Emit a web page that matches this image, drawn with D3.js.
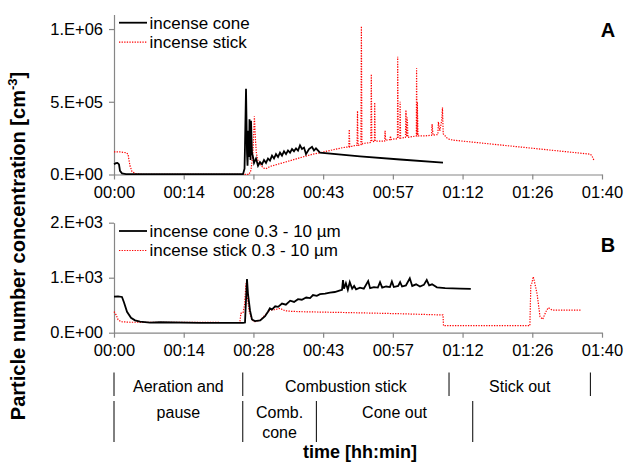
<!DOCTYPE html>
<html lang="en">
<head>
    <meta charset="UTF-8">
    <title>Particle number concentration</title>
    <script src="https://cdn.jsdelivr.net/npm/d3@7"></script>
    <style>
        body{ margin:0; background:#fff; }
        svg{ position:absolute; left:0px; top:0px; font-family:"Liberation Sans", Arial, sans-serif; }
    </style>
</head>
<body>
    <svg id="chart" width="625" height="462"></svg>
    <script>
        // time in minutes
        var coneA = [[0,70000],[0.41,78000],[0.72,80000],[1.03,70000],[1.24,25000],[1.65,8000],[2.48,3000],[5.4,2000],
            [26.65,2000],[26.96,40000],[27.06,200000],[27.27,590000],[27.47,150000],[27.58,60000],[27.78,300000],[27.89,120000],
            [27.99,380000],[28.2,100000],[28.3,370000],[28.5,150000],[28.71,120000],[28.92,80000],[29.33,110000],[29.75,60000],
            [30.16,85000],[30.57,70000],[30.98,100000],[31.4,80000],[31.81,110000],[32.22,95000],[32.64,130000],[33.05,110000],
            [33.46,140000],[33.88,120000],[34.29,150000],[34.7,130000],[35.12,160000],[35.53,140000],[35.94,165000],[36.36,150000],
            [36.77,175000],[37.18,160000],[37.6,180000],[38.01,165000],[38.42,200000],[38.83,175000],[39.25,185000],[39.66,140000],
            [40.28,175000],[40.9,190000],[41.3,165000],[41.72,180000],[42.55,150000],[50.8,125000],[59.1,103000],[67.96,82000]]

        var stickA = [[0,155000],[1.24,155000],[2.48,150000],[2.89,140000],[3.3,60000],[3.72,20000],[4.54,5000],[5.8,1000],
            [27.9,1000],[28.3,30000],[28.7,150000],[29.0,400000],[29.2,250000],[29.4,150000],[29.7,100000],[30.2,70000],
            [30.8,45000],[31.4,40000],[32.2,55000],[34.3,75000],[36.4,95000],[38.4,115000],[41.1,140000],[42.6,150000],
            [44.6,165000],[47.3,185000],[48.5,190000],[48.6,310000],[48.7,190000],[49.8,200000],[50.2,200000],[50.3,438000],
            [50.4,200000],[51.0,205000],[51.1,1020000],[51.2,210000],[51.85,215000],[53.05,220000],[53.15,690000],[53.25,230000],
            [53.8,225000],[53.85,495000],[53.95,230000],[54.9,230000],[55.9,230000],[56.0,300000],[56.1,235000],[57.0,240000],
            [57.1,264000],[57.2,240000],[58.0,245000],[58.55,245000],[58.6,810000],[58.7,250000],[59.05,250000],[59.1,500000],
            [59.2,250000],[60.2,255000],[60.3,443000],[60.45,260000],[60.6,392000],[60.7,255000],[61.55,260000],[62.45,265000],
            [62.5,730000],[62.6,270000],[62.65,500000],[62.8,265000],[64.2,265000],[65.6,270000],[65.7,346000],[65.9,270000],
            [66.9,275000],[67.0,362000],[67.3,300000],[67.7,374000],[67.85,460000],[68.0,280000],[68.8,250000],[69.4,240000],
            [70.4,235000],[98.3,140000],[98.7,130000],[99.1,100000]]

        var coneB = [[0,655],[0.83,660],[1.65,650],[2.07,550],[2.69,380],[3.51,270],[4.34,225],[5.37,200],[7.44,185],[9.5,190],
            [17.8,180],[26.65,180],[27.06,185],[27.27,600],[27.47,976],[27.68,700],[28.1,400],[28.5,240],[29.1,210],[30.2,225],
            [31.2,300],[31.8,380],[32.2,443],[32.6,420],[33.3,480],[33.9,470],[34.7,530],[35.5,510],[36.4,582],[37.2,560],
            [38.0,610],[38.8,600],[39.7,640],[40.5,630],[41.1,685],[41.9,670],[42.55,700],[43.6,710],[44.6,730],[45.6,740],
            [46.7,770],[47.1,780],[47.3,958],[47.5,800],[47.9,900],[48.3,780],[48.7,920],[49.2,800],[49.6,850],[50.0,790],
            [50.8,820],[51.6,800],[52.5,940],[52.9,810],[53.7,830],[54.5,820],[54.95,920],[55.4,820],[56.2,840],[57.0,830],
            [57.4,930],[57.8,830],[58.7,850],[59.1,920],[59.5,840],[60.3,860],[61.1,990],[61.6,850],[62.4,880],[63.2,840],
            [64.0,870],[64.6,958],[65.1,860],[65.7,880],[66.7,825],[68.4,810],[71.5,800],[73.7,795]]

        var stickB = [[0,382],[0.41,330],[0.83,240],[1.45,200],[3.3,190],[26.0,185],[26.2,352],[26.65,360],[26.96,500],
            [27.27,898],[27.47,700],[27.9,400],[28.5,230],[29.1,200],[30.2,230],[31.2,320],[32.2,412],[33.3,420],[34.3,443],
            [35.3,400],[36.4,390],[38.4,382],[48.7,365],[59.1,345],[67.96,322],[68.06,127],[85.9,127],[86.1,867],[86.3,900],
            [86.6,1018],[86.97,880],[87.4,700],[88.0,291],[88.55,243],[89.2,380],[89.7,455],[90.5,412],[96.6,412]]

        var xTicks = [0, 14.4, 28.8, 43.2, 57.6, 72, 86.4, 100.8]
        var yTicksA = [0, 500000, 1000000]
        var yTicksB = [0, 1000, 2000]

        var legendA = ["incense cone", "incense stick"]
        var legendB = ["incense cone 0.3 - 10 \u00b5m", "incense stick 0.3 - 10 \u00b5m"]

        // phase table below the axis: boundaries (minutes) and labels
        var phaseRow1 = [0, 26.6, 69.2, 98.4]
        var phaseRow1Labels = [["Aeration and"], ["Combustion stick"], ["Stick out"]]
        var phaseRow2 = [0, 26.6, 41.8, 74.1]
        var phaseRow2Labels = [["pause"], ["Comb.", "cone"], ["Cone out"]]

        var svg = d3.select("#chart")
        var axisGrey = "#868686"

        var x = d3.scaleLinear().domain([0, 100.8]).range([114, 602])
        var yA = d3.scaleLinear().domain([0, 1100000]).range([174.5, 14.5])
        var yB = d3.scaleLinear().domain([0, 2000]).range([332.7, 222.7])

        function timeFmt(t){
            var m = Math.floor(t + 1e-6)
            return d3.format("02d")(Math.floor(m / 60)) + ":" + d3.format("02d")(m % 60)
        }
        function sciFmt(v){
            if (v === 0) return "0.E+00"
            var e = Math.floor(Math.log10(v))
            return Math.round(v / Math.pow(10, e)) + ".E+" + d3.format("02d")(e)
        }

        function drawPanel(y, yTicks, cone, stick, legend, letter, legY){
            var gx = svg.append("g").attr("transform", "translate(0," + y(0) + ")")
                .call(d3.axisBottom(x).tickValues(xTicks).tickFormat(timeFmt).tickSize(5).tickSizeOuter(0))
            var gy = svg.append("g").attr("transform", "translate(" + x(0) + ",0)")
                .call(d3.axisLeft(y).tickValues(yTicks).tickFormat(sciFmt).tickSize(5).tickSizeOuter(0))
            ;[gx, gy].forEach(function(g){
                g.selectAll("path, line").attr("stroke", axisGrey).attr("stroke-width", 1.2)
                g.selectAll("text").attr("fill", "#000").style("font-size", "16.5px")
            })
            gx.selectAll("text").attr("dy", "0.95em")
            gy.selectAll("text").attr("x", -11)

            var line = d3.line().x(function(d){ return x(d[0]) }).y(function(d){ return y(d[1]) })

            svg.append("path").attr("d", line(stick))
                .attr("fill", "none").attr("stroke", "#ff0000").attr("stroke-width", 1.2)
                .attr("stroke-dasharray", "1.3 1.3")
            svg.append("path").attr("d", line(cone))
                .attr("fill", "none").attr("stroke", "#000").attr("stroke-width", 1.8)

            // legend
            legend.forEach(function(name, i){
                var ly = legY + i * 19.5
                svg.append("line").attr("x1", 119).attr("x2", 147).attr("y1", ly).attr("y2", ly)
                    .attr("stroke", i === 0 ? "#000" : "#ff0000")
                    .attr("stroke-width", i === 0 ? 1.8 : 1.2)
                    .attr("stroke-dasharray", i === 0 ? null : "1.3 1.3")
                svg.append("text").attr("x", 149.5).attr("y", ly).attr("dy", "0.35em")
                    .style("font-size", "17px").text(name)
            })

            svg.append("text").attr("x", 608).attr("y", letter[1]).attr("text-anchor", "middle")
                .attr("dy", "0.35em").style("font-size", "20px").style("font-weight", "bold").text(letter[0])
        }

        drawPanel(yA, yTicksA, coneA, stickA, legendA, ["A", 30], 22.7)
        drawPanel(yB, yTicksB, coneB, stickB, legendB, ["B", 245], 231)

        // y title
        var yt = svg.append("text").attr("transform", "translate(25,246) rotate(-90)")
            .attr("text-anchor", "middle").style("font-size", "20px").style("font-weight", "bold")
        yt.append("tspan").text("Particle number concentration [cm")
        yt.append("tspan").attr("dy", -8).style("font-size", "13px").text("-3")
        yt.append("tspan").attr("dy", 8).text("]")

        // phase table
        function drawRow(bounds, labels, y0, y1, ty){
            bounds.forEach(function(b){
                svg.append("line").attr("x1", x(b)).attr("x2", x(b)).attr("y1", y0).attr("y2", y1)
                    .attr("stroke", "#000").attr("stroke-width", 1)
            })
            labels.forEach(function(lines, i){
                var cx = (x(bounds[i]) + x(bounds[i + 1])) / 2
                lines.forEach(function(s, j){
                    svg.append("text").attr("x", cx).attr("y", ty + j * 20).attr("dy", "0.35em")
                        .attr("text-anchor", "middle").style("font-size", "16px").text(s)
                })
            })
        }
        drawRow(phaseRow1, phaseRow1Labels, 372.5, 396, 386)
        drawRow(phaseRow2, phaseRow2Labels, 401, 442, 412)

        svg.append("text").attr("x", 360).attr("y", 452).attr("dy", "0.35em").attr("text-anchor", "middle")
            .style("font-size", "18px").style("font-weight", "bold").text("time [hh:min]")
    </script>
</body>
</html>
